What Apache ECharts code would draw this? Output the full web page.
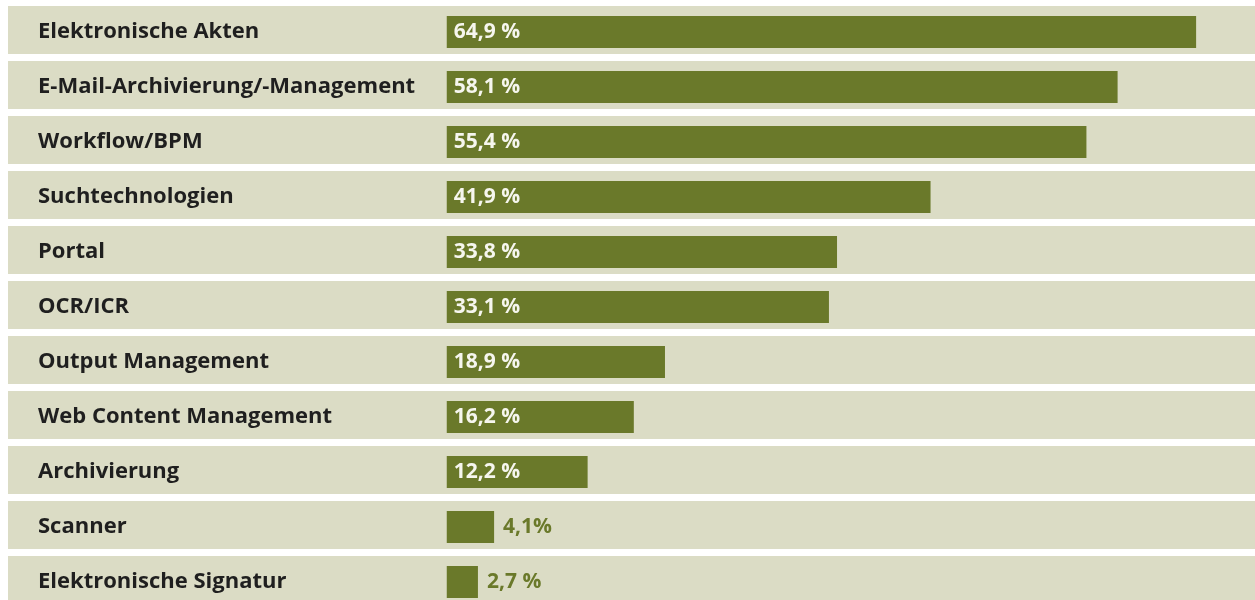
<!DOCTYPE html>
<html>
<head>
<meta charset="utf-8">
<script src="https://cdn.jsdelivr.net/npm/echarts@6/dist/echarts.min.js"></script>
<style>
html,body{margin:0;padding:0;background:#ffffff;}
#chart{width:1255px;height:600px;}
</style>
</head>
<body>
<div id="chart"></div>
<script>
const categories = [
  'Elektronische Akten',
  'E-Mail-Archivierung/-Management',
  'Workflow/BPM',
  'Suchtechnologien',
  'Portal',
  'OCR/ICR',
  'Output Management',
  'Web Content Management',
  'Archivierung',
  'Scanner',
  'Elektronische Signatur'
];
const values = [64.9, 58.1, 55.4, 41.9, 33.8, 33.1, 18.9, 16.2, 12.2, 4.1, 2.7];
const valueLabels = ['64,9 %', '58,1 %', '55,4 %', '41,9 %', '33,8 %', '33,1 %', '18,9 %', '16,2 %', '12,2 %', '4,1%', '2,7 %'];
const outsideThreshold = 10;

const BAND = '#dbdcc5';
const BAR = '#6a792a';
const FONT = '"Open Sans", sans-serif';

const chart = echarts.init(document.getElementById('chart'), null, {renderer: 'canvas'});

const barData = values.map((v, i) => {
  const outside = v < outsideThreshold;
  return {
    value: v,
    label: {
      show: true,
      position: outside ? 'right' : 'insideLeft',
      distance: outside ? 9 : 7,
      formatter: () => valueLabels[i],
      color: outside ? BAR : '#f6f6ee',
      fontFamily: FONT,
      fontWeight: 700,
      fontSize: 21
    }
  };
});

chart.setOption({
  animation: false,
  backgroundColor: '#ffffff',
  grid: [
    {left: 8, right: 0, top: 2.5, height: 605, outerBoundsMode: 'none', containLabel: false},
    {left: 8, right: 0, top: 4.5, height: 605, outerBoundsMode: 'none', containLabel: false}
  ],
  xAxis: [
    {gridIndex: 0, type: 'value', min: -38, max: 70, show: false},
    {gridIndex: 1, type: 'value', min: -38, max: 70, show: false}
  ],
  yAxis: [
    {
      gridIndex: 0, type: 'category', data: categories, inverse: true,
      axisLine: {show: false}, axisTick: {show: false}, axisLabel: {show: false},
      splitArea: {show: true, areaStyle: {color: [BAND]}},
      splitLine: {show: true, lineStyle: {color: '#ffffff', width: 7}}
    },
    {
      gridIndex: 1, type: 'category', data: categories, inverse: true,
      axisLine: {show: false}, axisTick: {show: false},
      splitArea: {show: false}, splitLine: {show: false},
      axisLabel: {inside: true, margin: 30, color: '#1f1f1f', fontFamily: FONT, fontWeight: 700, fontSize: 22}
    }
  ],
  series: [{
    type: 'bar',
    xAxisIndex: 1, yAxisIndex: 1,
    data: barData,
    barWidth: 32,
    itemStyle: {color: BAR},
    z: 5
  }]
});
</script>
</body>
</html>
